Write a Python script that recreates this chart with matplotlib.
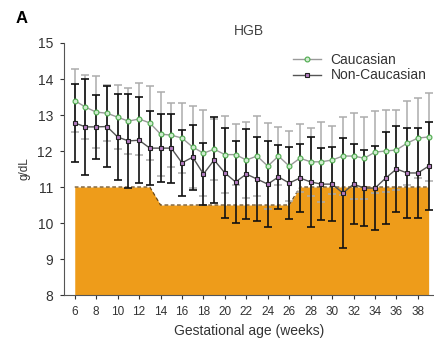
import matplotlib
matplotlib.use("Agg")
import matplotlib.pyplot as plt
import numpy as np

plt.rcParams["font.family"] = ["Liberation Sans", "DejaVu Sans"]

weeks = list(range(6, 40))

# mean HGB (g/dL) per gestational week
cauc_mean = [13.40, 13.22, 13.08, 13.05, 12.94, 12.83, 12.89, 12.78, 12.47, 12.44,
             12.36, 12.11, 11.94, 12.05, 11.90, 11.90, 11.75, 11.86, 11.58, 11.86,
             11.58, 11.80, 11.70, 11.70, 11.75, 11.86, 11.86, 11.80, 11.97, 12.00,
             12.03, 12.22, 12.36, 12.39]
cauc_sd = [0.88, 0.89, 1.00, 0.78, 0.89, 0.92, 1.00, 1.03, 1.17, 0.89,
           0.97, 1.14, 1.20, 0.85, 1.07, 0.85, 1.06, 1.11, 1.20, 0.81,
           0.98, 0.95, 0.94, 1.11, 0.94, 1.08, 1.20, 1.14, 1.13, 1.14,
           1.11, 1.17, 1.11, 1.22]

noncauc_mean = [12.78, 12.67, 12.67, 12.68, 12.39, 12.28, 12.30, 12.08, 12.08, 12.08,
                11.67, 11.83, 11.36, 11.75, 11.39, 11.14, 11.36, 11.22, 11.08, 11.28,
                11.11, 11.25, 11.14, 11.08, 11.08, 10.83, 11.08, 10.97, 10.97, 11.25,
                11.50, 11.39, 11.39, 11.58]
noncauc_sd = [1.08, 1.34, 0.89, 1.12, 1.20, 1.30, 1.20, 1.02, 0.94, 0.96,
              0.92, 0.90, 0.86, 1.20, 1.25, 1.14, 1.25, 1.16, 1.19, 0.89,
              1.00, 0.94, 1.25, 1.00, 1.02, 1.52, 1.11, 1.05, 1.16, 1.28,
              1.19, 1.25, 1.25, 1.22]

# anaemia threshold (g/dL)
threshold = [11.0] * 8 + [10.5] * 13 + [11.0] * 13

fig = plt.figure(figsize=(4.34, 3.44), dpi=100)
ax = fig.add_axes([0.1475, 0.1424, 0.8525, 0.7326])

ax.fill_between(weeks, 8, threshold, color="#EE9C1A", lw=0, zorder=1)
ax.plot(weeks, threshold, color="#6b4a1a", lw=0.9, ls=(0, (3, 2)), zorder=2)

ax.errorbar(weeks, cauc_mean, yerr=cauc_sd, fmt="none", ecolor="#acacac",
            elinewidth=1.1, capsize=3, capthick=1.1, zorder=3)
ax.errorbar(weeks, noncauc_mean, yerr=noncauc_sd, fmt="none", ecolor="#111111",
            elinewidth=1.2, capsize=3, capthick=1.2, zorder=4)

ax.plot(weeks, cauc_mean, color="#9a9a9a", lw=1.0, marker="o", ms=3.5,
        mfc="#cfeccf", mec="#4caa4c", mew=0.8, zorder=6, label="Caucasian")
ax.plot(weeks, noncauc_mean, color="#555555", lw=1.0, marker="s", ms=3.5,
        mfc="#b57cc2", mec="#222222", mew=0.8, zorder=5, label="Non-Caucasian")

ax.set_xlim(5, 39.5)
ax.set_ylim(8, 15)
ax.set_xticks(range(6, 39, 2))
ax.set_yticks(range(8, 16))
ax.spines["top"].set_visible(False)
ax.spines["right"].set_visible(False)
for s in ("left", "bottom"):
    ax.spines[s].set_color("#555555")
    ax.spines[s].set_linewidth(0.8)
ax.tick_params(length=3, width=0.8, colors="#333333")
ax.tick_params(axis="x", labelsize=8.5, pad=5)
ax.tick_params(axis="y", labelsize=10, pad=5)

ax.set_xlabel("Gestational age (weeks)", fontsize=10, color="#333333", labelpad=4)
ax.set_ylabel("g/dL", fontsize=8.5, color="#333333", labelpad=5)
ax.set_title("HGB", fontsize=10, color="#444444", pad=6)

ax.legend(loc="upper left", bbox_to_anchor=(0.585, 1.01), frameon=False,
          fontsize=10, handlelength=2.0, handletextpad=0.7, labelspacing=0.1,
          labelcolor="#333333")

fig.text(0.035, 0.933, "A", fontsize=12, fontweight="bold")

fig.savefig("out.png", dpi=100)
